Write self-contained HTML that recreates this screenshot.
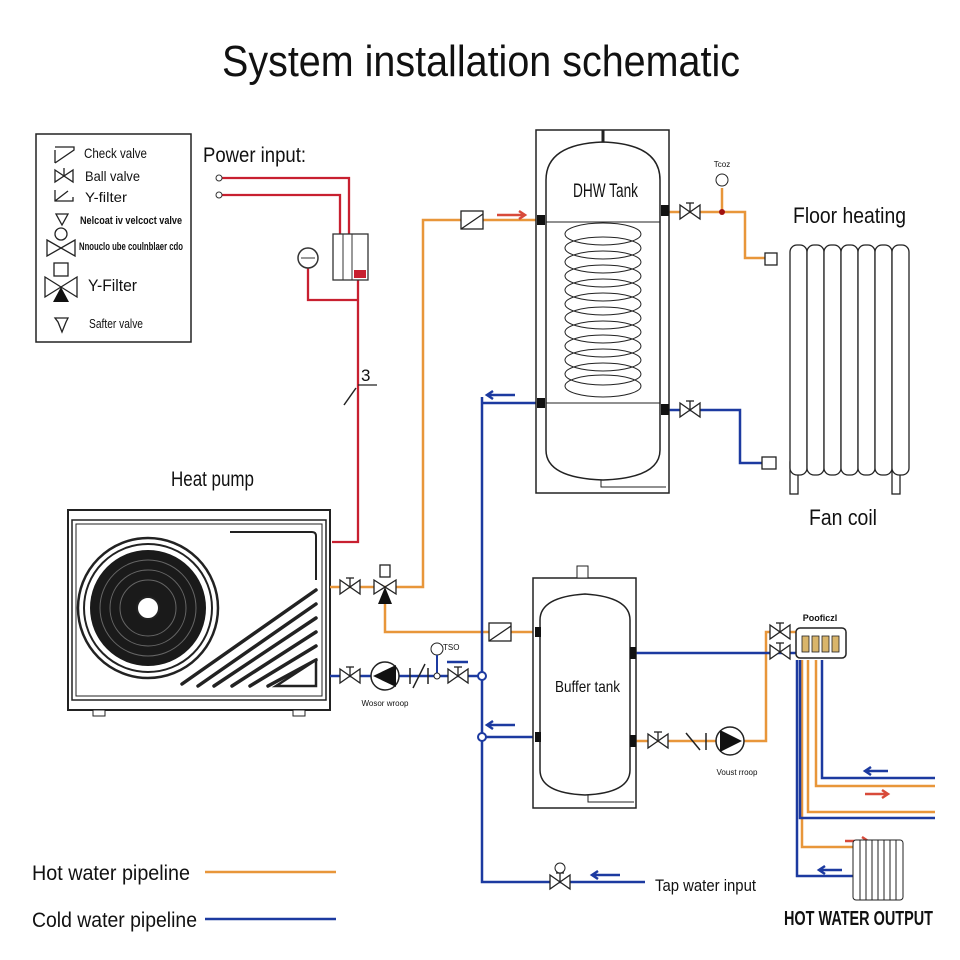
<!DOCTYPE html>
<html><head><meta charset="utf-8"><style>
html,body{margin:0;padding:0;background:#fff}
svg{display:block}
text{font-family:"Liberation Sans",sans-serif;fill:#111}
</style></head><body>
<svg width="960" height="960" viewBox="0 0 960 960" xmlns="http://www.w3.org/2000/svg">
<defs>
<g id="bv"><path d="M-10,-7 L10,7 L10,-7 L-10,7 Z" fill="#fff" stroke="#222" stroke-width="1.3"/><line x1="0" y1="0" x2="0" y2="-9" stroke="#222" stroke-width="1.3"/><line x1="-4" y1="-9" x2="4" y2="-9" stroke="#222" stroke-width="1.3"/></g>
<g id="cv"><rect x="-11" y="-9" width="22" height="18" fill="#fff" stroke="#222" stroke-width="1.3"/><line x1="-11" y1="9" x2="11" y2="-6" stroke="#222" stroke-width="1.3"/></g>
</defs>

<text x="222" y="76" font-size="44" textLength="518" lengthAdjust="spacingAndGlyphs">System installation schematic</text>

<!-- legend -->
<rect x="36" y="134" width="155" height="208" fill="#fff" stroke="#222" stroke-width="1.5"/>
<g stroke="#222" stroke-width="1.3" fill="none">
<path d="M55,163 L74,150 L74,147 L55,147 M55,163 L55,150"/>
<path d="M55,170 L73,182 L73,170 L55,182 Z M64,176 L64,168"/>
<path d="M55,190 L55,201 L73,201 L73,197 M55,201 L68,191"/>
<path d="M56,214 L68,214 L62,225 Z"/>
<circle cx="61" cy="234" r="6"/>
<path d="M47,240 L75,256 L75,240 L47,256 Z"/>
<rect x="54" y="263" width="14" height="13"/>
<path d="M45,277 L77,297 L77,277 L45,297 Z"/>
<path d="M55,318 L68,318 L66,322 L62,332 L58,322 Z"/>
</g>
<path d="M61,287 L69,302 L53,302 Z" fill="#111"/>
<text x="84" y="158" font-size="14" textLength="63" lengthAdjust="spacingAndGlyphs">Check valve</text>
<text x="85" y="181" font-size="14" textLength="55" lengthAdjust="spacingAndGlyphs">Ball valve</text>
<text x="85" y="202" font-size="14" textLength="42" lengthAdjust="spacingAndGlyphs">Y-filter</text>
<text x="80" y="224" font-size="11" font-weight="bold" textLength="102" lengthAdjust="spacingAndGlyphs">Nelcoat iv velcoct valve</text>
<text x="79" y="250" font-size="11" font-weight="bold" textLength="104" lengthAdjust="spacingAndGlyphs">Nnouclo ube coulnblaer cdo</text>
<text x="88" y="291" font-size="17" textLength="49" lengthAdjust="spacingAndGlyphs">Y-Filter</text>
<text x="89" y="328" font-size="13" textLength="54" lengthAdjust="spacingAndGlyphs">Safter valve</text>

<!-- power -->
<text x="203" y="162" font-size="21" textLength="103" lengthAdjust="spacingAndGlyphs">Power input:</text>
<g stroke="#c82030" stroke-width="2.3" fill="none">
<path d="M222,178 L349,178 L349,238"/>
<path d="M222,195 L340,195 L340,238"/>
<path d="M308,268 L308,300 L358,300"/>
<path d="M358,280 L358,542 L332,542"/>
</g>
<circle cx="219" cy="178" r="3" fill="#fff" stroke="#333"/>
<circle cx="219" cy="195" r="3" fill="#fff" stroke="#333"/>
<circle cx="308" cy="258" r="10" fill="#fff" stroke="#333" stroke-width="1.5"/>
<line x1="301" y1="258" x2="315" y2="258" stroke="#333"/>
<rect x="333" y="234" width="35" height="46" fill="#fff" stroke="#333" stroke-width="1.3"/>
<line x1="343" y1="234" x2="343" y2="280" stroke="#333"/><line x1="352" y1="234" x2="352" y2="280" stroke="#333"/>
<rect x="354" y="270" width="12" height="8" fill="#c82030"/>
<line x1="344" y1="405" x2="356" y2="388" stroke="#222" stroke-width="1.5"/>
<line x1="358" y1="385" x2="377" y2="385" stroke="#222" stroke-width="1.3"/>
<text x="361" y="381" font-size="17">3</text>

<!-- heat pump -->
<text x="171" y="486" font-size="21" textLength="83" lengthAdjust="spacingAndGlyphs">Heat pump</text>
<rect x="68" y="510" width="262" height="200" fill="#fff" stroke="#222" stroke-width="2"/>
<rect x="72" y="520" width="254" height="180" fill="none" stroke="#222" stroke-width="1.5"/>
<rect x="76" y="524" width="246" height="172" fill="none" stroke="#222" stroke-width="1"/>
<rect x="93" y="710" width="12" height="6" fill="#fff" stroke="#222"/>
<rect x="293" y="710" width="12" height="6" fill="#fff" stroke="#222"/>
<path d="M230,532 L312,532 Q316,532 316,536 L316,580" fill="none" stroke="#222" stroke-width="2"/>
<circle cx="148" cy="608" r="70" fill="#fff" stroke="#222" stroke-width="2.5"/>
<circle cx="148" cy="608" r="64" fill="none" stroke="#222" stroke-width="2"/>
<circle cx="148" cy="608" r="58" fill="#1a1a1a"/>
<g stroke="#666" stroke-width="1" fill="none">
<circle cx="148" cy="608" r="48"/><circle cx="148" cy="608" r="38"/><circle cx="148" cy="608" r="28"/>
</g>
<circle cx="148" cy="608" r="11" fill="#fff" stroke="#222" stroke-width="2"/>
<g stroke="#222" stroke-width="3.5" fill="none" stroke-linecap="round">
<line x1="182" y1="684" x2="316" y2="590"/>
<line x1="198" y1="686" x2="316" y2="604"/>
<line x1="214" y1="686" x2="316" y2="618"/>
<line x1="232" y1="686" x2="316" y2="632"/>
<line x1="250" y1="686" x2="316" y2="646"/>
<line x1="268" y1="686" x2="316" y2="660"/>
</g>
<path d="M276,686 L316,660 L316,686 Z" fill="#fff" stroke="#222" stroke-width="2.5"/>

<!-- pipes -->
<g stroke="#e8963a" stroke-width="2.5" fill="none">
<path d="M330,587 L423,587 L423,220 L540,220"/>
<path d="M385,598 L385,632 L540,632"/>
<path d="M665,212 L745,212 L745,258 L775,258"/>
<path d="M722,188 L722,212"/>
<path d="M636,741 L766,741 L766,632 L800,632"/>
<path d="M816,660 L816,786 L935,786"/>
<path d="M808,660 L808,812 L935,812"/>
<path d="M802,660 L802,847 L855,847"/>
<line x1="205" y1="872" x2="336" y2="872"/>
</g>
<g stroke="#1c3aa0" stroke-width="2.5" fill="none">
<path d="M330,676 L482,676"/>
<path d="M482,397 L482,882 L645,882"/>
<path d="M482,403 L540,403"/>
<path d="M482,737 L540,737"/>
<path d="M665,410 L740,410 L740,463 L770,463"/>
<path d="M636,653 L800,653"/>
<path d="M822,660 L822,778 L935,778"/>
<path d="M800,660 L800,818 L935,818"/>
<path d="M797,660 L797,876 L855,876"/>
<line x1="205" y1="919" x2="336" y2="919"/>
<line x1="447" y1="662" x2="468" y2="662"/>
</g>
<!-- arrows -->
<g stroke-width="2.5" fill="none">
<path d="M497,215 L525,215 M519,211 L525,215 L519,219" stroke="#d84a3a"/>
<path d="M515,395 L487,395 M493,391 L487,395 L493,399" stroke="#1c3aa0"/>
<path d="M515,725 L487,725 M493,721 L487,725 L493,729" stroke="#1c3aa0"/>
<path d="M620,875 L592,875 M598,871 L592,875 L598,879" stroke="#1c3aa0"/>
<path d="M888,771 L865,771 M871,767 L865,771 L871,775" stroke="#1c3aa0"/>
<path d="M865,794 L888,794 M882,790 L888,794 L882,798" stroke="#d84a3a"/>
<path d="M845,841 L868,841 M862,837 L868,841 L862,845" stroke="#d84a3a"/>
<path d="M842,870 L819,870 M825,866 L819,870 L825,874" stroke="#1c3aa0"/>
</g>
<circle cx="482" cy="676" r="4" fill="#fff" stroke="#1c3aa0" stroke-width="2"/>
<circle cx="482" cy="737" r="4" fill="#fff" stroke="#1c3aa0" stroke-width="2"/>
<circle cx="722" cy="212" r="3" fill="#a01010"/>

<!-- valves -->
<use href="#bv" x="350" y="587"/>
<use href="#bv" x="350" y="676"/>
<use href="#bv" x="458" y="676"/>
<use href="#bv" x="690" y="212"/>
<use href="#bv" x="690" y="410"/>
<use href="#bv" x="560" y="882"/>
<use href="#bv" x="658" y="741"/>
<use href="#bv" x="780" y="632"/>
<use href="#bv" x="780" y="652"/>
<use href="#cv" x="472" y="220"/>
<use href="#cv" x="500" y="632"/>
<!-- 3-way -->
<path d="M374,580 L396,594 L396,580 L374,594 Z" fill="#fff" stroke="#222" stroke-width="1.3"/>
<path d="M385,587 L392,604 L378,604 Z" fill="#111"/>
<rect x="380" y="565" width="10" height="12" fill="#fff" stroke="#222" stroke-width="1.3"/>
<!-- pumps -->
<circle cx="385" cy="676" r="14" fill="#fff" stroke="#222" stroke-width="1.5"/>
<path d="M373,676 L396,665 L396,687 Z" fill="#111"/>
<circle cx="730" cy="741" r="14" fill="#fff" stroke="#222" stroke-width="1.5"/>
<path d="M720,730 L742,741 L720,752 Z" fill="#111"/>
<g stroke="#222" stroke-width="1.5">
<line x1="410" y1="668" x2="410" y2="684"/><line x1="428" y1="668" x2="428" y2="684"/><line x1="413" y1="688" x2="425" y2="664"/>
<line x1="686" y1="733" x2="700" y2="750"/><line x1="706" y1="733" x2="706" y2="750"/>
</g>
<circle cx="437" cy="649" r="6" fill="#fff" stroke="#222"/>
<line x1="437" y1="655" x2="437" y2="676" stroke="#1c3aa0" stroke-width="2"/>
<circle cx="437" cy="676" r="3" fill="#fff" stroke="#222"/>
<text x="443" y="650" font-size="8">TSO</text>
<text x="385" y="706" font-size="8" text-anchor="middle">Wosor wroop</text>
<text x="737" y="775" font-size="8" text-anchor="middle">Voust rroop</text>
<circle cx="560" cy="868" r="5" fill="#fff" stroke="#222"/>
<circle cx="722" cy="180" r="6" fill="#fff" stroke="#222"/>
<text x="722" y="167" font-size="8" text-anchor="middle">Tcoz</text>

<!-- DHW tank -->
<rect x="536" y="130" width="133" height="363" fill="#fff" stroke="#222" stroke-width="1.5"/>
<path d="M546,180 Q546,144 603,142 Q660,144 660,180 L660,450 Q660,478 603,480 Q546,478 546,450 Z" fill="#fff" stroke="#222" stroke-width="1.5"/>
<line x1="603" y1="130" x2="603" y2="142" stroke="#222" stroke-width="3"/>
<path d="M601,480 L601,487 L666,487" fill="none" stroke="#222"/>
<line x1="546" y1="222" x2="660" y2="222" stroke="#222"/>
<line x1="546" y1="403" x2="660" y2="403" stroke="#222"/>
<g fill="none" stroke="#222" stroke-width="1">
<ellipse cx="603" cy="234" rx="38" ry="11"/><ellipse cx="603" cy="248" rx="38" ry="11"/><ellipse cx="603" cy="262" rx="38" ry="11"/><ellipse cx="603" cy="276" rx="38" ry="11"/><ellipse cx="603" cy="290" rx="38" ry="11"/><ellipse cx="603" cy="304" rx="38" ry="11"/><ellipse cx="603" cy="318" rx="38" ry="11"/><ellipse cx="603" cy="332" rx="38" ry="11"/><ellipse cx="603" cy="346" rx="38" ry="11"/><ellipse cx="603" cy="360" rx="38" ry="11"/><ellipse cx="603" cy="374" rx="38" ry="11"/><ellipse cx="603" cy="386" rx="38" ry="11"/>
</g>
<g fill="#111"><rect x="537" y="215" width="8" height="10"/><rect x="537" y="398" width="8" height="10"/><rect x="661" y="205" width="8" height="11"/><rect x="661" y="404" width="8" height="11"/></g>
<text x="573" y="197" font-size="19" textLength="65" lengthAdjust="spacingAndGlyphs">DHW Tank</text>

<!-- radiator -->
<text x="793" y="223" font-size="22" textLength="113" lengthAdjust="spacingAndGlyphs">Floor heating</text>
<text x="809" y="525" font-size="22" textLength="68" lengthAdjust="spacingAndGlyphs">Fan coil</text>
<g fill="#fff" stroke="#222" stroke-width="1.3">
<rect x="765" y="253" width="12" height="12"/><rect x="762" y="457" width="14" height="12"/>
<rect x="790" y="462" width="8" height="32"/><rect x="892" y="462" width="8" height="32"/>
<rect x="790" y="245" width="17" height="230" rx="7"/><rect x="807" y="245" width="17" height="230" rx="7"/><rect x="824" y="245" width="17" height="230" rx="7"/><rect x="841" y="245" width="17" height="230" rx="7"/><rect x="858" y="245" width="17" height="230" rx="7"/><rect x="875" y="245" width="17" height="230" rx="7"/><rect x="892" y="245" width="17" height="230" rx="7"/>
</g>

<!-- buffer tank -->
<rect x="533" y="578" width="103" height="230" fill="#fff" stroke="#222" stroke-width="1.5"/>
<path d="M540,620 Q540,597 585,594 Q630,597 630,620 L630,770 Q630,793 585,795 Q540,793 540,770 Z" fill="#fff" stroke="#222" stroke-width="1.5"/>
<rect x="577" y="566" width="11" height="12" fill="#fff" stroke="#222"/>
<path d="M588,795 L588,802 L634,802" fill="none" stroke="#222"/>
<g fill="#111"><rect x="535" y="627" width="6" height="10"/><rect x="535" y="732" width="6" height="10"/><rect x="630" y="647" width="6" height="12"/><rect x="630" y="735" width="6" height="12"/></g>
<text x="555" y="692" font-size="16" textLength="65" lengthAdjust="spacingAndGlyphs">Buffer tank</text>

<!-- manifold -->
<rect x="796" y="628" width="50" height="30" rx="4" fill="#fff" stroke="#222" stroke-width="1.5"/>
<g fill="#d9b56b" stroke="#222" stroke-width="0.8"><rect x="802" y="636" width="7" height="16"/><rect x="812" y="636" width="7" height="16"/><rect x="822" y="636" width="7" height="16"/><rect x="832" y="636" width="7" height="16"/></g>
<text x="820" y="621" font-size="9" text-anchor="middle" font-weight="bold">Pooficzl</text>
<rect x="853" y="840" width="50" height="60" rx="3" fill="#fff" stroke="#222"/>
<g stroke="#222" stroke-width="1"><line x1="860" y1="840" x2="860" y2="900"/><line x1="866" y1="840" x2="866" y2="900"/><line x1="872" y1="840" x2="872" y2="900"/><line x1="878" y1="840" x2="878" y2="900"/><line x1="884" y1="840" x2="884" y2="900"/><line x1="890" y1="840" x2="890" y2="900"/><line x1="896" y1="840" x2="896" y2="900"/></g>
<text x="784" y="925" font-size="20" font-weight="bold" textLength="149" lengthAdjust="spacingAndGlyphs">HOT WATER OUTPUT</text>

<text x="655" y="891" font-size="17" textLength="101" lengthAdjust="spacingAndGlyphs">Tap water input</text>
<text x="32" y="880" font-size="21" textLength="158" lengthAdjust="spacingAndGlyphs">Hot water pipeline</text>
<text x="32" y="927" font-size="21" textLength="165" lengthAdjust="spacingAndGlyphs">Cold water pipeline</text>
</svg>
</body></html>
